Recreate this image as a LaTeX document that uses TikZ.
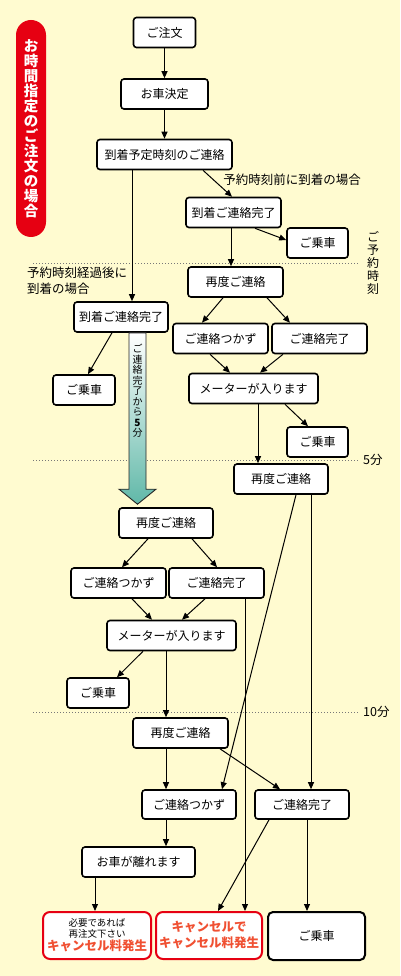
\documentclass[tikz,border=0pt]{standalone}
\usepackage{fontspec}
\newfontfamily\jp{Noto Sans CJK JP}
\usetikzlibrary{arrows.meta,calc}
\definecolor{bg}{RGB}{255,251,208}
\definecolor{pillred}{RGB}{230,0,18}
\definecolor{redtext}{RGB}{240,80,50}
\definecolor{arrowteal}{RGB}{96,184,168}
\definecolor{dotgray}{RGB}{120,120,120}
\tikzset{
 box/.style={draw=black, fill=white, line width=1.6pt, rounded corners=3pt, minimum height=30pt, inner sep=0pt, font=\jp\fontsize{12}{14}\selectfont},
 arr/.style={line width=1pt, -{Triangle[length=7pt,width=6pt]}},
 sepline/.style={dash pattern=on 1pt off 2pt, line width=1pt, dotgray},
 lbl/.style={font=\jp\fontsize{12.5}{16}\selectfont, inner sep=0pt},
 redbox/.style={draw=pillred, fill=white, line width=2pt, rounded corners=7pt, minimum height=47pt, inner sep=0pt, align=center, font=\jp}
}
\begin{document}
\begin{tikzpicture}[x=1pt,y=-1pt]
\fill[bg] (0,0) rectangle (400,976);
\useasboundingbox (0,0) rectangle (400,976);

% dotted separators
\draw[sepline] (33,263) -- (358,263);
\draw[sepline] (33,460) -- (358,460);
\draw[sepline] (33,712) -- (358,712);

% title pill
\node[fill=pillred, rounded corners=15pt, minimum width=30pt, minimum height=217pt, inner sep=0pt,
      text=white, align=center, font=\jp\bfseries\fontsize{14.5}{15}\selectfont] (pill) at (31,128.5)
 {お\\時\\間\\指\\定\\の\\ご\\注\\文\\の\\場\\合};

% nodes
\node[box, minimum width=62pt] (n1) at (164.5,32.5) {ご注文};
\node[box, minimum width=87pt] (n2) at (164.5,94) {お車決定};
\node[box, minimum width=135pt] (n3) at (164.5,154.5) {到着予定時刻のご連絡};
\node[box, minimum width=95pt] (n4) at (233.5,212.5) {到着ご連絡完了};
\node[box, minimum width=61pt] (n5) at (317.5,243) {ご乗車};
\node[box, minimum width=95pt] (n6) at (235.5,282) {再度ご連絡};
\node[box, minimum width=94pt] (n7) at (121,317) {到着ご連絡完了};
\node[box, minimum width=95pt] (n8) at (220.5,338.5) {ご連絡つかず};
\node[box, minimum width=95pt] (n9) at (319.5,338.5) {ご連絡完了};
\node[box, minimum width=129pt] (n10) at (253.5,388.5) {メーターが入ります};
\node[box, minimum width=62pt] (n11) at (84,390) {ご乗車};
\node[box, minimum width=61pt] (n12) at (317.5,442) {ご乗車};
\node[box, minimum width=94pt] (n13) at (281,479) {再度ご連絡};
\node[box, minimum width=94pt] (n14) at (166,523) {再度ご連絡};
\node[box, minimum width=95pt] (n15) at (118.5,583) {ご連絡つかず};
\node[box, minimum width=95pt] (n16) at (216.5,583) {ご連絡完了};
\node[box, minimum width=129pt] (n17) at (171.5,635.5) {メーターが入ります};
\node[box, minimum width=62pt] (n18) at (98,693) {ご乗車};
\node[box, minimum width=95pt] (n19) at (180.5,733) {再度ご連絡};
\node[box, minimum width=94pt, minimum height=29pt] (n20) at (189,804.5) {ご連絡つかず};
\node[box, minimum width=94pt, minimum height=29pt] (n21) at (302,804.5) {ご連絡完了};
\node[box, minimum width=113pt] (n22) at (138.5,862) {お車が離れます};
\node[redbox, minimum width=108pt] (r1) at (97,935.5)
 {{\fontsize{9.5}{11}\selectfont 必要であれば}\\[-1pt]{\fontsize{9.5}{11}\selectfont 再注文下さい}\\[1pt]{\fontsize{12.5}{14}\selectfont\bfseries\color{redtext}キャンセル料発生}};
\node[redbox, minimum width=106pt, font=\jp\bfseries\fontsize{12.5}{16}\selectfont, text=redtext] (r2) at (209,935.5)
 {キャンセルで\\キャンセル料発生};
\node[box, minimum width=97pt, minimum height=48pt, line width=2pt, rounded corners=5pt] (n25) at (316.5,936) {ご乗車};

% labels
\node[lbl] (l1) at (292,180) {予約時刻前に到着の場合};
\node[lbl, anchor=west, align=left] (l2) at (27,281) {予約時刻経過後に\\到着の場合};
\node[lbl, align=center, font=\jp\fontsize{12}{13}\selectfont] (l3) at (373,263) {ご\\予\\約\\時\\刻};
\node[lbl, anchor=west] (l4) at (363,460) {5分};
\node[lbl, anchor=west] (l5) at (363,712) {10分};

% big gradient arrow
\draw[top color=white, bottom color=arrowteal, draw=black!85, line width=0.9pt]
  let \p1=([xshift=16.5pt]n7.south), \p2=([xshift=-28.5pt,yshift=3pt]n14.north) in
  (\x1-8.5pt,\y1) -- (\x1+8.5pt,\y1) -- (\x1+8.5pt,\y2+15pt) -- (\x1+18.5pt,\y2+15pt)
  -- (\x2,\y2) -- (\x1-18.5pt,\y2+15pt) -- (\x1-8.5pt,\y2+15pt) -- cycle;
\node[align=center, inner sep=0pt, font=\jp\fontsize{10}{10.5}\selectfont] (atxt) at (137.5,391)
 {ご\\連\\絡\\完\\了\\か\\ら\\\textbf{5}\\分};

% connectors
\draw[arr] (n1.south) -- (n2.north);
\draw[arr] (n2.south) -- (n3.north);
\draw[arr] ([xshift=38.5pt]n3.south) -- ([xshift=-1.5pt]n4.north);
\draw[arr] ([xshift=21.5pt]n4.south) -- ([yshift=3pt]n5.west);
\draw[arr] ([xshift=-32.5pt]n3.south) -- ([xshift=11pt]n7.north);
\draw[arr] ([xshift=-2.5pt]n4.south) -- ([xshift=-4.5pt]n6.north);
\draw[arr] ([xshift=-12.5pt]n6.south) -- ([xshift=-18.5pt]n8.north);
\draw[arr] ([xshift=31.5pt]n6.south) -- ([xshift=-29.5pt]n9.north);
\draw[arr] ([xshift=-10.5pt]n8.south) -- ([xshift=-23.5pt]n10.north);
\draw[arr] ([xshift=-36.5pt]n9.south) -- ([xshift=6.5pt]n10.north);
\draw[arr] ([xshift=4.5pt]n10.south) -- ([xshift=-23pt]n13.north);
\draw[arr] ([xshift=31.5pt]n10.south) -- ([xshift=-9.5pt]n12.north);
\draw[arr] ([xshift=-9pt]n7.south) -- ([xshift=4pt]n11.north);
\draw[arr] ([xshift=-18pt]n14.south) -- ([xshift=3.5pt]n15.north);
\draw[arr] ([xshift=26pt]n14.south) -- ([xshift=0.5pt]n16.north);
\draw[arr] ([xshift=13.5pt]n15.south) -- ([xshift=-19.5pt]n17.north);
\draw[arr] ([xshift=-11.5pt]n16.south) -- ([xshift=10.5pt]n17.north);
\draw[arr] ([xshift=-28.5pt]n17.south) -- ([xshift=19pt]n18.north);
\draw[arr] ([xshift=-5.5pt]n17.south) -- ([xshift=-14.5pt]n19.north);
\draw[arr] ([xshift=15pt]n13.south) -- ([xshift=33pt]n20.north);
\draw[arr] ([xshift=30pt]n13.south) -- ([xshift=9pt]n21.north);
\draw[arr] ([xshift=28.5pt]n16.south) -- ([xshift=36pt]r2.north);
\draw[arr] ([xshift=-14.5pt]n19.south) -- ([xshift=-23pt]n20.north);
\draw[arr] ([xshift=39.5pt]n19.south) -- ([xshift=-22pt]n21.north);
\draw[arr] ([xshift=-23pt]n20.south) -- ([xshift=27.5pt]n22.north);
\draw[arr] ([xshift=-43.5pt]n22.south) -- ([xshift=-2pt]r1.north);
\draw[arr] ([xshift=-33pt]n21.south) -- ([xshift=9pt]r2.north);
\draw[arr] ([xshift=5pt]n21.south) -- ([xshift=-9.5pt]n25.north);
\end{tikzpicture}
\end{document}
